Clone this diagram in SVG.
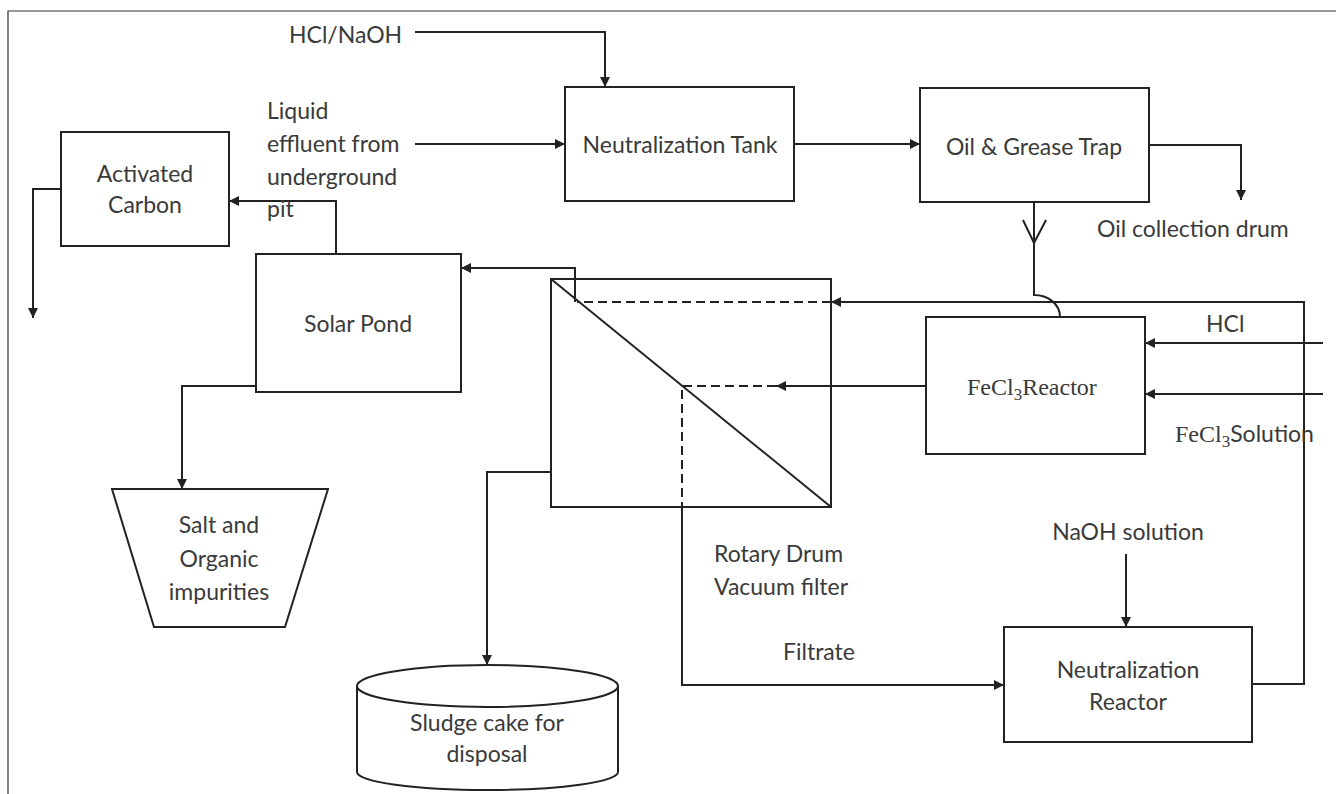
<svg xmlns="http://www.w3.org/2000/svg" width="1336" height="794" viewBox="0 0 1336 794">
<style>
.b{fill:#fff;stroke:#222;stroke-width:2}
.c{fill:none;stroke:#222;stroke-width:2}
.d{fill:none;stroke:#222;stroke-width:2;stroke-dasharray:9,5}
.t{font-family:Lato,"Liberation Sans",sans-serif;font-size:23px;fill:#3a3a3a}
.m{text-anchor:middle}
.s{font-family:"Liberation Serif","DejaVu Serif",serif;font-size:24px;fill:#3a3a3a}
</style>
<defs>
<marker id="a" viewBox="0 0 10 10" refX="10" refY="5" markerWidth="5" markerHeight="5" orient="auto" markerUnits="strokeWidth">
<path d="M0,0 L10,5 L0,10 z" fill="#222"/>
</marker>
</defs>
<rect width="1336" height="794" fill="#fff"/>
<path d="M8,794 V11 H1336" fill="none" stroke="#333" stroke-width="1.2"/>

<g id="connectors">
<path class="c" d="M415,32 H605 V87" marker-end="url(#a)"/>
<path class="c" d="M415,144 H565" marker-end="url(#a)"/>
<path class="c" d="M794,144 H920" marker-end="url(#a)"/>
<path class="c" d="M1149,145 H1241 V200" marker-end="url(#a)"/>
<path class="c" d="M1034,202 V295 C1048,295 1060,304 1060,317"/>
<path class="c" d="M1023,220 L1034,243 L1046,220"/>
<path class="c" d="M1323,343 H1145" marker-end="url(#a)"/>
<path class="c" d="M1323,394 H1145" marker-end="url(#a)"/>
<path class="c" d="M1252,684 H1304 V302 H831" marker-end="url(#a)"/>
<path class="d" d="M831,302 H577"/>
<path class="c" d="M575,302 V268 H461" marker-end="url(#a)"/>
<path class="c" d="M926,386 H776" marker-end="url(#a)"/>
<path class="d" d="M776,386 H682 V507"/>
<path class="c" d="M682,507 V685 H1004" marker-end="url(#a)"/>
<path class="c" d="M1126,554 V627" marker-end="url(#a)"/>
<path class="c" d="M551,472 H487 V665" marker-end="url(#a)"/>
<path class="c" d="M336,254 V201 H229" marker-end="url(#a)"/>
<path class="c" d="M61,189 H33 V318" marker-end="url(#a)"/>
<path class="c" d="M256,386 H182 V489" marker-end="url(#a)"/>
</g>

<g id="activated-carbon">
<rect class="b" x="61" y="132" width="168" height="114"/>
<text class="t m" x="145" y="182">Activated</text>
<text class="t m" x="145" y="213">Carbon</text>
</g>

<g id="neutralization-tank">
<rect class="b" x="565" y="87" width="229" height="114"/>
<text class="t m" x="680" y="153">Neutralization Tank</text>
</g>

<g id="oil-grease-trap">
<rect class="b" x="920" y="88" width="229" height="114"/>
<text class="t m" x="1034" y="155">Oil &amp; Grease Trap</text>
</g>

<g id="solar-pond">
<rect class="b" x="256" y="254" width="205" height="138"/>
<text class="t m" x="358" y="332">Solar Pond</text>
</g>

<g id="rotary-drum-filter">
<rect class="c" x="551" y="279" width="280" height="228"/>
<path class="c" d="M551,279 L831,507"/>
</g>

<g id="fecl3-reactor">
<rect class="b" x="926" y="317" width="219" height="137"/>
<text class="s" x="967" y="395">FeCl<tspan font-size="17" dy="5">3</tspan><tspan dy="-5">Reactor</tspan></text>
</g>

<g id="salt-impurities">
<path class="b" d="M112,489 H328 L285,627 H154 Z"/>
<text class="t m" x="219" y="533">Salt and</text>
<text class="t m" x="219" y="567">Organic</text>
<text class="t m" x="219" y="600">impurities</text>
</g>

<g id="sludge-cake">
<path class="b" d="M357,686 V772 A130.5,18 0 0 0 618,772 V686"/>
<ellipse class="b" cx="487.5" cy="686" rx="130.5" ry="21"/>
<text class="t m" x="487" y="731">Sludge cake for</text>
<text class="t m" x="487" y="762">disposal</text>
</g>

<g id="neutralization-reactor">
<rect class="b" x="1004" y="627" width="248" height="115"/>
<text class="t m" x="1128" y="678">Neutralization</text>
<text class="t m" x="1128" y="710">Reactor</text>
</g>

<g id="labels">
<text class="t" x="289" y="43">HCl/NaOH</text>
<text class="t" x="267" y="119">Liquid</text>
<text class="t" x="267" y="152">effluent from</text>
<text class="t" x="267" y="185">underground</text>
<text class="t" x="267" y="217">pit</text>
<text class="t" x="1097" y="237">Oil collection drum</text>
<text class="t" x="1206" y="332">HCl</text>
<text class="s" x="1175" y="442">FeCl<tspan font-size="17" dy="5">3</tspan><tspan dy="-5" class="t">Solution</tspan></text>
<text class="t" x="714" y="562">Rotary Drum</text>
<text class="t" x="714" y="595">Vacuum filter</text>
<text class="t m" x="1128" y="540">NaOH solution</text>
<text class="t" x="783" y="660">Filtrate</text>
</g>
</svg>
